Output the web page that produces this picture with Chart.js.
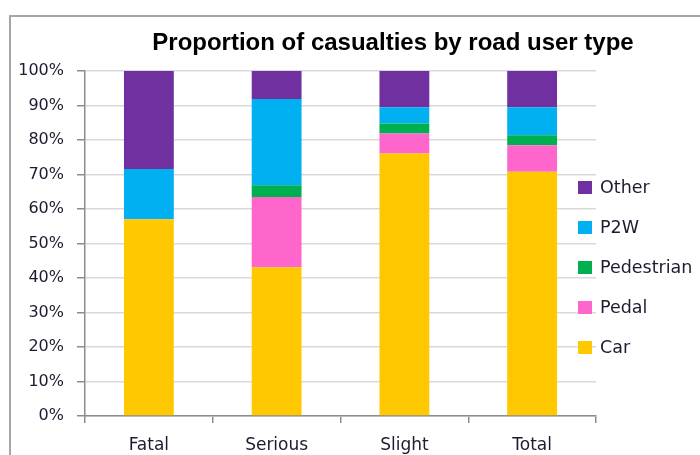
<!DOCTYPE html>
<html><head><meta charset="utf-8">
<script src="https://cdn.jsdelivr.net/npm/chart.js@4"></script>
<style>
html,body{margin:0;padding:0;background:#fff;overflow:hidden}
#wrap{position:absolute;left:0;top:0;width:700px;height:455px}
#frame{position:absolute;left:9px;top:15px;width:720px;height:480px;border:2px solid #a6a6a6;box-sizing:border-box}
canvas{position:absolute;left:0;top:0}
</style></head><body>
<div id="wrap"><div id="frame"></div><canvas id="c" width="700" height="455"></canvas></div>
<script>
const categories = ["Fatal", "Serious", "Slight", "Total"];
const car        = [57.0, 43.1, 76.1, 70.8];
const pedal      = [0.0, 20.4, 5.8, 7.7];
const pedestrian = [0.0, 3.4, 2.9, 2.9];
const p2w        = [14.6, 25.0, 4.7, 8.1];
const other      = [28.4, 8.1, 10.5, 10.5];
const seriesNames = ["Car", "Pedal", "Pedestrian", "P2W", "Other"];
const yTicks = [0,10,20,30,40,50,60,70,80,90,100];
const titleText = "Proportion of casualties by road user type";

const colors = ["#FFC800", "#FF66CC", "#00B050", "#00B0F0", "#7030A0"];
const seriesData = [car, pedal, pedestrian, p2w, other];
const textColor = "#1e1b30";
const FONT = "'DejaVu Sans', sans-serif";

const customDraw = {
  id: 'customDraw',
  afterDraw(chart) {
    const ctx = chart.ctx;
    ctx.save();
    // title
    ctx.fillStyle = "#000";
    ctx.font = "bold 24px 'Liberation Sans', sans-serif";
    ctx.textAlign = "center";
    ctx.textBaseline = "alphabetic";
    ctx.fillText(titleText, 393, 50);
    // legend (reversed order)
    ctx.font = "17.5px " + FONT;
    ctx.textAlign = "left";
    ctx.textBaseline = "middle";
    const ys = [187, 227, 267, 307, 347];
    for (let i = 0; i < seriesNames.length; i++) {
      const idx = seriesNames.length - 1 - i;
      ctx.fillStyle = colors[idx];
      ctx.fillRect(578, ys[i] - 6, 14, 13);
      ctx.fillStyle = textColor;
      ctx.fillText(seriesNames[idx], 600, ys[i] + 1);
    }
    ctx.restore();
  }
};

new Chart(document.getElementById('c'), {
  type: 'bar',
  data: {
    labels: categories,
    datasets: seriesNames.map((n, i) => ({
      label: n,
      data: seriesData[i],
      backgroundColor: colors[i],
      borderWidth: 0,
      barPercentage: 0.78,
      categoryPercentage: 0.5
    }))
  },
  options: {
    responsive: false,
    animation: false,
    devicePixelRatio: 1,
    layout: { padding: { top: 71, right: 104, left: 0, bottom: 0 } },
    plugins: { legend: { display: false }, title: { display: false }, tooltip: { enabled: false } },
    scales: {
      x: {
        stacked: true,
        grid: { display: true, drawOnChartArea: false, drawTicks: true, tickLength: 7, offset: true, color: "#8c8c8c", lineWidth: 1.5 },
        border: { display: true, color: "#8c8c8c", width: 1.5 },
        ticks: { color: textColor, font: { family: FONT, size: 17 }, padding: 12 },
        afterFit(scale) { scale.height = 39; }
      },
      y: {
        stacked: true,
        min: 0, max: 100,
        afterBuildTicks(scale) { scale.ticks = yTicks.map(v => ({ value: v })); },
        grid: { color: "#d9d9d9", lineWidth: 1.5, tickLength: 8, tickColor: "#8c8c8c" },
        border: { display: true, color: "#8c8c8c", width: 1.5 },
        ticks: { color: textColor, font: { family: FONT, size: 16 }, padding: 13, callback: v => v + "%" },
        afterFit(scale) { scale.width = 85; }
      }
    }
  },
  plugins: [customDraw]
});
</script>
</body></html>
